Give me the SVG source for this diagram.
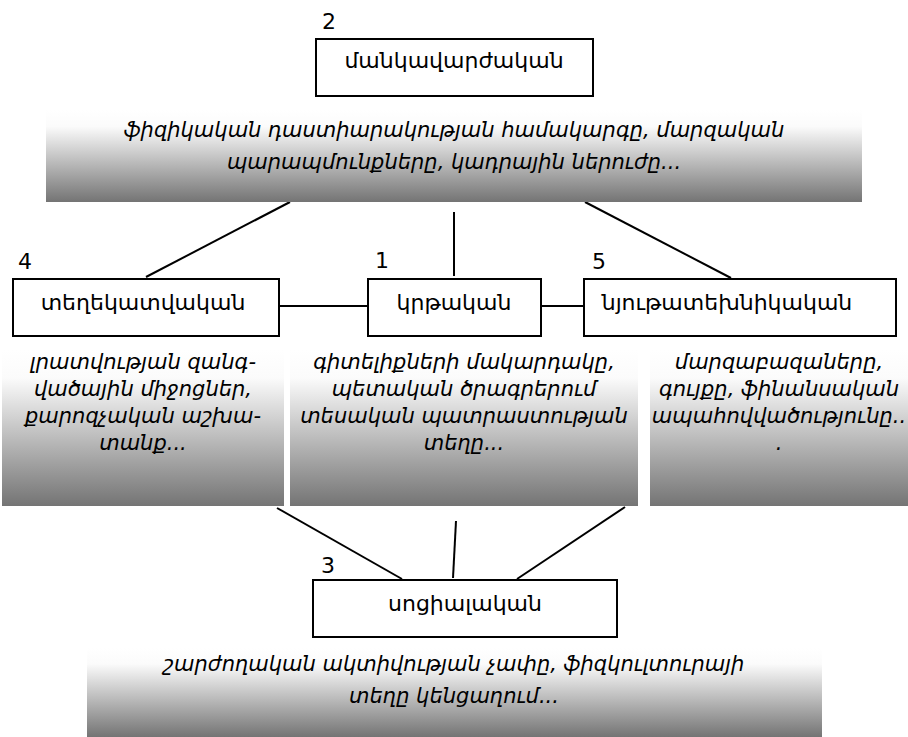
<svg xmlns="http://www.w3.org/2000/svg" width="908" height="737" viewBox="0 0 908 737">
<defs>
<linearGradient id="g" x1="0" y1="0" x2="0" y2="1">
<stop offset="0" stop-color="#ffffff"/>
<stop offset="0.18" stop-color="#fbfbfb"/>
<stop offset="1" stop-color="#747474"/>
</linearGradient>
<style>
.box{fill:#fff;stroke:#000;stroke-width:2}
.grad{fill:url(#g);stroke:none}
.lbl{font-family:"DejaVu Sans",sans-serif;font-size:22px;text-anchor:middle;fill:#000}
.num{font-family:"DejaVu Sans",sans-serif;font-size:22px;fill:#000}
.it{font-family:"DejaVu Sans",sans-serif;font-style:italic;font-size:21px;text-anchor:middle;fill:#000}
.con line{stroke:#000;stroke-width:2}
</style>
</defs>
<rect width="908" height="737" fill="#fff"/>
<g class="con">
<line x1="290" y1="202" x2="146" y2="277"/>
<line x1="454" y1="212" x2="454" y2="276"/>
<line x1="585" y1="202" x2="731" y2="278"/>
<line x1="279" y1="306" x2="368" y2="306"/>
<line x1="541" y1="306" x2="584" y2="306"/>
<line x1="277" y1="508" x2="402" y2="579"/>
<line x1="456" y1="521" x2="453" y2="578"/>
<line x1="625" y1="507" x2="517" y2="579"/>
</g>
<g id="node2">
<text class="num" x="322" y="29">2</text>
<rect class="box" x="316" y="39" width="277" height="57"/>
<text class="lbl" x="454" y="68">մանկավարժական</text>
</g>
<g id="desc2">
<rect class="grad" x="46" y="110" width="816" height="92"/>
<text class="it" x="454" y="137">ֆիզիկական դաստիարակության համակարգը, մարզական</text>
<text class="it" x="454" y="169">պարապմունքները, կադրային ներուժը...</text>
</g>
<g id="node4">
<text class="num" x="18" y="269">4</text>
<rect class="box" x="13" y="279" width="266" height="57"/>
<text class="lbl" x="143" y="310">տեղեկատվական</text>
</g>
<g id="node1">
<text class="num" x="375" y="268">1</text>
<rect class="box" x="368" y="279" width="173" height="57"/>
<text class="lbl" x="454" y="310">կրթական</text>
</g>
<g id="node5">
<text class="num" x="592" y="269">5</text>
<rect class="box" x="584" y="279" width="312" height="57"/>
<text class="lbl" x="727" y="310">նյութատեխնիկական</text>
</g>
<g id="desc4">
<rect class="grad" x="2" y="350" width="282" height="156"/>
<text class="it" x="143" y="369">լրատվության զանգ-</text>
<text class="it" x="143" y="396">վածային միջոցներ,</text>
<text class="it" x="143" y="423">քարոզչական աշխա-</text>
<text class="it" x="143" y="450">տանք...</text>
</g>
<g id="desc1">
<rect class="grad" x="290" y="350" width="348" height="156"/>
<text class="it" x="464" y="369">գիտելիքների մակարդակը,</text>
<text class="it" x="464" y="396">պետական ծրագրերում</text>
<text class="it" x="464" y="423">տեսական պատրաստության</text>
<text class="it" x="464" y="450">տեղը...</text>
</g>
<g id="desc5">
<rect class="grad" x="650" y="350" width="258" height="156"/>
<text class="it" x="779" y="369">մարզաբազաները,</text>
<text class="it" x="779" y="396">գույքը, ֆինանսական</text>
<text class="it" x="779" y="423">ապահովվածությունը..</text>
<text class="it" x="779" y="450">.</text>
</g>
<g id="node3">
<text class="num" x="321" y="573">3</text>
<rect class="box" x="313" y="580" width="304" height="57"/>
<text class="lbl" x="465" y="611">սոցիալական</text>
</g>
<g id="desc3">
<rect class="grad" x="87" y="648" width="735" height="89"/>
<text class="it" x="454" y="671">շարժողական ակտիվության չափը, ֆիզկուլտուրայի</text>
<text class="it" x="454" y="703">տեղը կենցաղում...</text>
</g>
</svg>
